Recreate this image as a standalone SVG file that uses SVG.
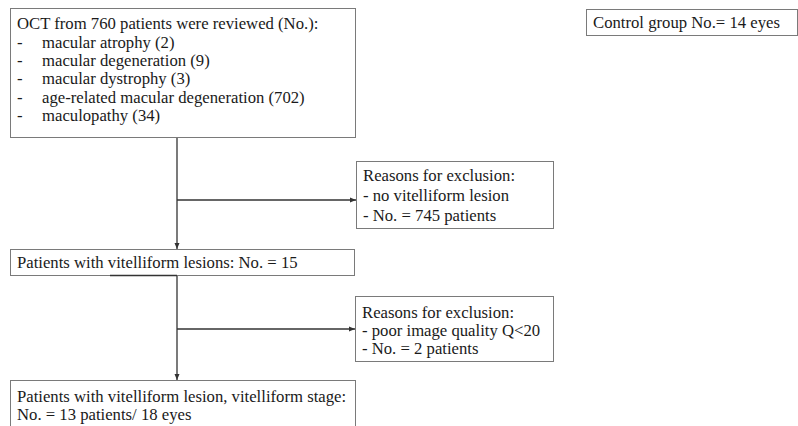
<svg xmlns="http://www.w3.org/2000/svg" width="798" height="426" viewBox="0 0 798 426">
<style>
.box{fill:#fff;stroke:#7a7a7a;stroke-width:1}
text{font-family:'Liberation Serif','Times New Roman',Times,serif;font-size:16.7px;fill:#1a1a1a}
.c{stroke:#333;stroke-width:1.3;fill:none}
</style>
<defs>
<marker id="ah" viewBox="0 0 6 6" refX="6" refY="3" markerWidth="6" markerHeight="6" markerUnits="userSpaceOnUse" orient="auto">
<path d="M0,0.5 L6,3 L0,5.5 Z" fill="#333"/>
</marker>
</defs>
<rect width="798" height="426" fill="#fff"/>
<g id="connectors">
<line class="c" x1="177" y1="137" x2="177" y2="249" marker-end="url(#ah)"/>
<line class="c" x1="177" y1="200" x2="356" y2="200" marker-end="url(#ah)"/>
<line class="c" x1="177" y1="276" x2="177" y2="380" marker-end="url(#ah)"/>
<line class="c" x1="177" y1="329" x2="355" y2="329" marker-end="url(#ah)"/>
</g>
<g id="n-reviewed">
<rect class="box" x="10.5" y="8.5" width="345" height="129"/>
<text x="17" y="29">OCT from 760 patients were reviewed (No.):</text>
<text x="17" y="48">-</text><text x="42" y="48">macular atrophy (2)</text>
<text x="17" y="66">-</text><text x="42" y="66">macular degeneration (9)</text>
<text x="17" y="84">-</text><text x="42" y="84">macular dystrophy (3)</text>
<text x="17" y="103">-</text><text x="42" y="103">age-related macular degeneration (702)</text>
<text x="17" y="121">-</text><text x="42" y="121">maculopathy (34)</text>
</g>
<g id="n-control">
<rect class="box" x="586.5" y="9.5" width="211" height="26"/>
<text x="593" y="28">Control group No.= 14 eyes</text>
</g>
<g id="n-excl1">
<rect class="box" x="356.5" y="161.5" width="197" height="67"/>
<text x="363" y="181">Reasons for exclusion:</text>
<text x="363" y="201">- no vitelliform lesion</text>
<text x="363" y="221">- No. = 745 patients</text>
</g>
<g id="n-lesions">
<rect class="box" x="10.5" y="249.5" width="344" height="26"/>
<line x1="110" y1="275.5" x2="177" y2="275.5" stroke="#333" stroke-width="1.5"/>
<text x="17" y="268">Patients with vitelliform lesions: No. = 15</text>
</g>
<g id="n-excl2">
<rect class="box" x="355.5" y="296.5" width="198" height="65"/>
<text x="362" y="318">Reasons for exclusion:</text>
<text x="362" y="336">- poor image quality Q&lt;20</text>
<text x="362" y="354">- No. = 2 patients</text>
</g>
<g id="n-final">
<rect class="box" x="10.5" y="380.5" width="345" height="60"/>
<text x="17" y="402">Patients with vitelliform lesion, vitelliform stage:</text>
<text x="17" y="420">No. = 13 patients/ 18 eyes</text>
</g>
</svg>
